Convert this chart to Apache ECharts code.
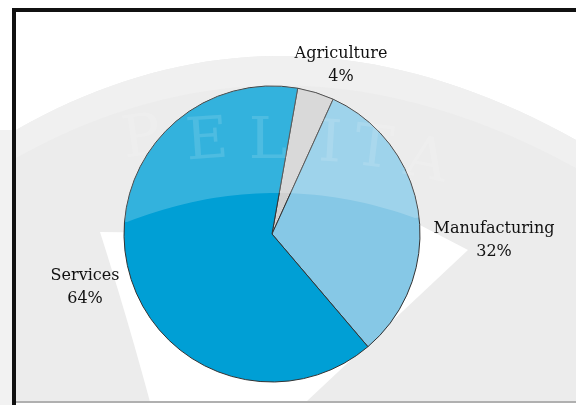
<!DOCTYPE html>
<html>
<head>
<meta charset="utf-8">
<script src="https://cdn.jsdelivr.net/npm/echarts@6/dist/echarts.min.js"></script>
<style>
html,body{margin:0;padding:0;background:#ffffff;}
#chart{width:576px;height:405px;}
</style>
</head>
<body>
<div id="chart"></div>
<script>
// Data
var categories = ['Agriculture', 'Manufacturing', 'Services'];
var shares = [4, 32, 64];
var sliceColors = ['#d0d0d0', '#86c8e6', '#009fd5'];
var watermarkLetters = ['P', 'E', 'L', 'I', 'T', 'A'];

// label anchor points (layout only)
var labelPos = [[341, 65], [494, 240], [85, 287]];

var chart = echarts.init(document.getElementById('chart'), null, {renderer: 'canvas'});

var pieData = categories.map(function (c, i) {
  return {name: c, value: shares[i], itemStyle: {color: sliceColors[i]}};
});

// decoration helpers
function quad(p0, c, p1, n) {
  var pts = [];
  for (var i = 0; i <= n; i++) {
    var t = i / n, a = (1 - t) * (1 - t), b = 2 * t * (1 - t), d = t * t;
    pts.push([a * p0[0] + b * c[0] + d * p1[0], a * p0[1] + b * c[1] + d * p1[1]]);
  }
  return pts;
}
function arcPts(cx, cy, r, a0, a1, n) {
  var pts = [];
  for (var i = 0; i <= n; i++) {
    var a = a0 + (a1 - a0) * i / n;
    pts.push([cx + r * Math.cos(a), cy + r * Math.sin(a)]);
  }
  return pts;
}

var topWhite = [[16, 12], [576, 12]].concat(quad([576, 140], [284, -23], [16, 130], 40));
var band = quad([16, 130], [284, -23], [576, 140], 40).concat(quad([576, 168], [284, 8], [16, 158], 40));
var halo = [[100, 232]].concat(quad([100, 232], [128, 320], [150, 402], 20)).concat([[306, 402], [468, 250], [418, 224], [272, 234]]);
var cx = 272, cy = 234, R = 148;
var a0 = Math.atan2(218 - cy, 415 - cx), a1 = Math.atan2(222 - cy, 127 - cx);
if (a1 > 0) a1 -= 2 * Math.PI;
var overlay = quad([127, 222], [271, 166], [415, 218], 40).concat(arcPts(cx, cy, R, a0, a1, 80));

var letterPos = [[142, 140, 0.14], [207, 143, 0.07], [268, 143, 0.0], [330, 146, -0.06], [373, 151, -0.12], [426, 163, -0.2]];
var letterEls = watermarkLetters.map(function (ch, i) {
  return {
    type: 'text', z: 100, x: letterPos[i][0], y: letterPos[i][1], rotation: letterPos[i][2],
    style: {text: ch, font: '58px "DejaVu Serif", serif', fill: 'rgba(255,255,255,0.13)', textAlign: 'center', textVerticalAlign: 'middle'}
  };
});

var option = {
  backgroundColor: '#ffffff',
  animation: false,
  graphic: {
    elements: [
      {type: 'rect', z: -20, shape: {x: 0, y: 130, width: 12, height: 275}, style: {fill: '#f2f2f2'}},
      {type: 'rect', z: -20, shape: {x: 16, y: 12, width: 560, height: 390}, style: {fill: '#ececec'}},
      {type: 'polygon', z: -19, shape: {points: topWhite}, style: {fill: '#ffffff'}},
      {type: 'polygon', z: -19, shape: {points: band}, style: {fill: '#f0f0f0'}},
      {type: 'polygon', z: -19, shape: {points: halo}, style: {fill: '#ffffff'}},
      {type: 'rect', z: -10, shape: {x: 12, y: 8, width: 564, height: 4}, style: {fill: '#111111'}},
      {type: 'rect', z: -10, shape: {x: 12, y: 8, width: 4, height: 397}, style: {fill: '#111111'}},
      {type: 'rect', z: -10, shape: {x: 16, y: 401, width: 560, height: 2}, style: {fill: '#b0b0b0'}},
      {type: 'polygon', z: 100, shape: {points: overlay}, style: {fill: 'rgba(255,255,255,0.2)'}}
    ].concat(letterEls)
  },
  series: [{
    type: 'pie',
    center: [cx, cy],
    radius: R,
    startAngle: 80,
    clockwise: true,
    avoidLabelOverlap: false,
    percentPrecision: 0,
    data: pieData,
    itemStyle: {borderColor: '#333333', borderWidth: 1},
    label: {
      show: true,
      position: 'outside',
      formatter: '{b}\n{d}%',
      fontFamily: '"DejaVu Serif", serif',
      fontSize: 16,
      lineHeight: 23,
      color: '#111111',
      align: 'center'
    },
    labelLine: {show: false},
    labelLayout: function (params) {
      var p = labelPos[params.dataIndex];
      return {x: p[0], y: p[1], align: 'center', verticalAlign: 'middle'};
    },
    emphasis: {disabled: true}
  }]
};
chart.setOption(option);
</script>
</body>
</html>
